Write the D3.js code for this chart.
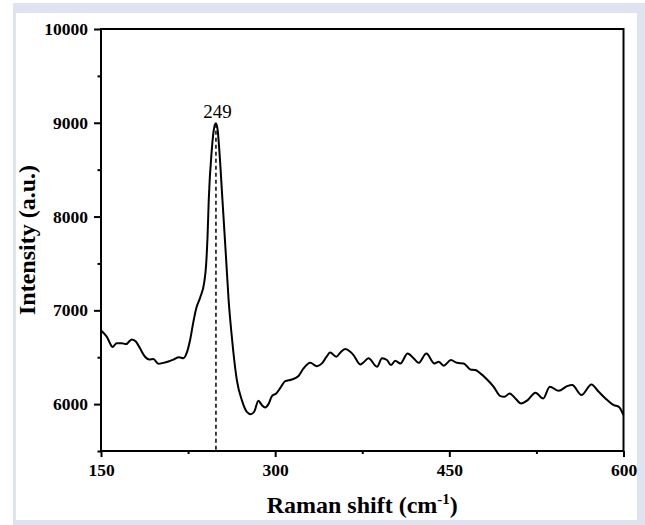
<!DOCTYPE html>
<html><head><meta charset="utf-8">
<script src="https://cdn.jsdelivr.net/npm/d3@7"></script>
<style>html,body{margin:0;padding:0;background:#fff;}svg{display:block;}</style>
</head><body>
<svg id="chart" width="645" height="525"></svg>
<script>
const ramanShift = [150.6,154.9,160.1,163.5,167.8,171.6,176.5,180.2,183.6,187.9,191.6,195.1,199.4,203.7,208,212.3,217.2,220.9,224.2,227,229.6,232,235.5,238.8,240.5,241.8,242.8,245.4,247.2,248.9,250.4,251.9,254.6,257.5,259.9,262.1,263.8,267,271.3,275.6,279.1,281.9,285.6,288.5,291.4,294.2,297.2,300.9,304.6,308.6,314.4,320.1,324.4,330.2,335.9,340.3,344,347.4,352.6,356,360.3,364.7,367.5,373.3,375.6,380.4,387.7,392,396.3,399.7,403.4,407.8,414.1,419.2,423.5,430.2,437.1,440.8,445.1,451.4,456.6,462.3,468.1,472.4,476.7,482.5,488.2,494,497.4,502,506.9,511.8,517.5,524.2,530.8,536.5,544.2,551.5,555.8,563.8,572.4,578.7,584.5,591.7,596,600];
const intensity = [6780,6720,6610,6650,6650,6640,6690,6665,6595,6505,6475,6480,6430,6440,6455,6475,6500,6490,6560,6700,6880,7020,7140,7290,7480,7800,8176,8709,8930,8994,8930,8709,8176,7600,7110,6790,6577,6256,6043,5918,5893,5918,6035,5990,5965,6000,6085,6114,6175,6245,6263,6300,6380,6440,6405,6434,6500,6550,6505,6548,6587,6558,6523,6423,6440,6488,6398,6488,6470,6416,6462,6434,6540,6488,6440,6540,6434,6452,6410,6470,6440,6434,6370,6363,6328,6263,6185,6085,6078,6114,6060,6007,6043,6121,6060,6185,6142,6192,6203,6096,6210,6131,6060,5989,5971,5883];
const xTicks = [150,300,450,600];
const xMinorTicks = [225,375,525];
const yTicks = [6000,7000,8000,9000,10000];
const yMinorTicks = [5500,6500,7500,8500,9500];
const peakPosition = 249;
const peakLabel = "249";
const xTitle = "Raman shift (cm";
const yTitle = "Intensity (a.u.)";

const svg = d3.select("#chart");
svg.append("rect").attr("x",13).attr("y",3).attr("width",632).attr("height",522).attr("fill","#dfe3f1");
svg.append("rect").attr("x",16).attr("y",13).attr("width",621).attr("height",507).attr("fill","#ffffff");

const L=101, R=623.5, T=29, B=451;
const x = d3.scaleLinear().domain([150,600]).range([L,R]);
const y = d3.scaleLinear().domain([5500,10000]).range([B,T]);

const font = "'Liberation Serif','Times New Roman',serif";

const line = d3.line().x((d,i)=>x(ramanShift[i])).y((d,i)=>y(intensity[i])).curve(d3.curveMonotoneX);
svg.append("path").datum(intensity).attr("d",line).attr("fill","none").attr("stroke","#000").attr("stroke-width",2).attr("stroke-linejoin","round");

svg.append("line").attr("x1",x(peakPosition)).attr("x2",x(peakPosition)).attr("y1",y(8990)).attr("y2",B)
  .attr("stroke","#000").attr("stroke-width",1.5).attr("stroke-dasharray","4,3");
svg.append("text").attr("x",x(peakPosition)+1.5).attr("y",117.5).attr("text-anchor","middle")
  .attr("font-family",font).attr("font-size",19).text(peakLabel);

const gx = svg.append("g").attr("transform",`translate(0,${B})`)
  .call(d3.axisBottom(x).tickValues(xTicks).tickSize(6).tickPadding(7).tickFormat(d3.format("d")));
const gxm = svg.append("g").attr("transform",`translate(0,${B})`)
  .call(d3.axisBottom(x).tickValues(xMinorTicks).tickSize(3).tickFormat(""));
const gy = svg.append("g").attr("transform",`translate(${L},0)`)
  .call(d3.axisLeft(y).tickValues(yTicks).tickSize(7).tickPadding(6).tickFormat(d3.format("d")));
const gym = svg.append("g").attr("transform",`translate(${L},0)`)
  .call(d3.axisLeft(y).tickValues(yMinorTicks).tickSize(3.5).tickFormat(""));
[gx,gxm,gy,gym].forEach(g=>{
  g.select(".domain").remove();
  g.selectAll(".tick line").attr("stroke","#000").attr("stroke-width",2);
  g.selectAll("text").attr("font-family",font).attr("font-size",17.5).attr("font-weight","bold").attr("fill","#000");
});
svg.append("rect").attr("x",L).attr("y",T).attr("width",R-L).attr("height",B-T)
  .attr("fill","none").attr("stroke","#000").attr("stroke-width",2);

const xt = svg.append("text").attr("x",(L+R)/2).attr("y",513).attr("text-anchor","middle")
  .attr("font-family",font).attr("font-size",24).attr("font-weight","bold");
xt.append("tspan").text(xTitle);
xt.append("tspan").attr("dy",-9).attr("font-size",15).text("-1");
xt.append("tspan").attr("dy",9).text(")");
svg.append("text").attr("transform",`translate(35,${(T+B)/2}) rotate(-90)`).attr("text-anchor","middle")
  .attr("font-family",font).attr("font-size",24).attr("font-weight","bold").text(yTitle);
</script>
</body></html>
